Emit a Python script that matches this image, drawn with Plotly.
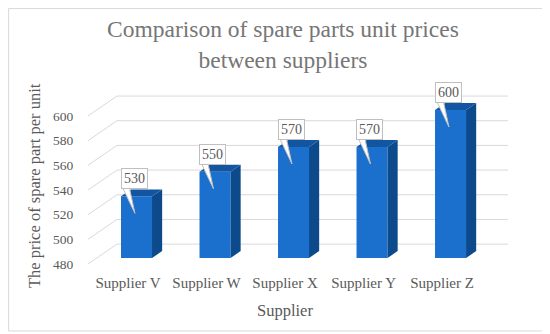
import plotly.graph_objects as go

# data
suppliers = ['Supplier V', 'Supplier W', 'Supplier X', 'Supplier Y', 'Supplier Z']
prices = [530, 550, 570, 570, 600]
y_ticks = [480, 500, 520, 540, 560, 580, 600]

# fake 3d look
x_lo, x_hi = -0.618, 4.732      # x range of the bar axis
y_lo, y_hi = 480, 621
depth_x, depth_y = 0.369, 16.1  # offset of the back wall
bar_w = 0.395
bar_front = 0.3                 # where the bar front sits in the depth
bar_depth = 0.35
label_shift = 0.108             # category labels sit on the front plane

font = 'Palatino Linotype, Book Antiqua, Palatino, Liberation Serif, serif'
grey = '#595959'

pos = list(range(len(prices)))
base = y_lo + bar_front * depth_y
dx, dy = bar_depth * depth_x, bar_depth * depth_y

fig = go.Figure()

# front faces
fig.add_trace(go.Bar(x=pos, y=[p - y_lo for p in prices], base=base, width=bar_w,
                     marker=dict(color='#1b6fcd', line=dict(width=0)),
                     hoverinfo='skip', showlegend=False))

# side and top faces
sx, sy, tx, ty = [], [], [], []
for i, p in zip(pos, prices):
    top = p + bar_front * depth_y
    r = i + bar_w / 2
    l = i - bar_w / 2
    sx += [r, r + dx, r + dx, r, None]
    sy += [base, base + dy, top + dy, top, None]
    tx += [l, l + dx, r + dx, r, None]
    ty += [top, top + dy, top + dy, top, None]
fig.add_trace(go.Scatter(x=sx, y=sy, mode='lines', fill='toself', fillcolor='#0d4a8c',
                         line=dict(width=0, color='#0d4a8c'), hoverinfo='skip', showlegend=False))
fig.add_trace(go.Scatter(x=tx, y=ty, mode='lines', fill='toself', fillcolor='#1256a2',
                         line=dict(width=0, color='#1256a2'), hoverinfo='skip', showlegend=False))

# callout tails
cx, cy = [], []
for i, p in zip(pos, prices):
    cx += [i - 0.185, i - 0.02, i - 0.095, None]
    cy += [p + 13, p - 9, p + 13, None]
fig.add_trace(go.Scatter(x=cx, y=cy, mode='lines', fill='toself', fillcolor='white',
                         line=dict(width=1, color='#bfbfbf'), hoverinfo='skip', showlegend=False))

# gridlines on the side and back wall
shapes = []
for v in y_ticks:
    shapes.append(dict(type='line', xref='x', yref='y', x0=x_lo, y0=v,
                       x1=x_lo + depth_x, y1=v + depth_y, layer='below',
                       line=dict(color='#d9d9d9', width=1)))
    shapes.append(dict(type='line', xref='x', yref='y', x0=x_lo + depth_x, y0=v + depth_y,
                       x1=x_hi, y1=v + depth_y, layer='below',
                       line=dict(color='#d9d9d9', width=1)))
# chart border
shapes.append(dict(type='rect', xref='paper', yref='paper', x0=-0.189, x1=1.088,
                   y0=-0.385, y1=1.468, line=dict(color='#d9d9d9', width=1)))

annotations = []
for i, p in zip(pos, prices):
    annotations.append(dict(x=i - 0.03, y=p + 19, xref='x', yref='y', text=str(p),
                            showarrow=False, bgcolor='white', bordercolor='#bfbfbf',
                            borderwidth=1, borderpad=2,
                            font=dict(family=font, size=14, color=grey)))
annotations.append(dict(x=-0.1286, y=0.454, xref='paper', yref='paper',
                        xanchor='center', yanchor='middle',
                        text='The price of spare part per unit', textangle=-90,
                        showarrow=False, font=dict(family=font, size=16.5, color=grey)))
annotations.append(dict(x=2, y=-0.27, xref='x2', yref='paper', text='Supplier',
                        showarrow=False, xanchor='center', yanchor='middle',
                        font=dict(family=font, size=16.5, color=grey)))

fig.update_layout(
    width=550, height=334,
    margin=dict(l=80, r=50, t=82, b=78),
    paper_bgcolor='white', plot_bgcolor='white',
    title=dict(text='Comparison of spare parts unit prices<br>between suppliers',
               x=0.5, xanchor='center', y=1 - 29 / 334, yanchor='middle',
               font=dict(family=font, size=23.5, color='#767676')),
    xaxis=dict(range=[x_lo, x_hi], showticklabels=False, showgrid=False,
               zeroline=False, showline=False),
    xaxis2=dict(overlaying='x', anchor='y', side='bottom',
                range=[x_lo + label_shift, x_hi + label_shift],
                tickmode='array', tickvals=pos, ticktext=suppliers,
                ticks='outside', ticklen=5, tickcolor='rgba(0,0,0,0)',
                showgrid=False, zeroline=False, showline=False,
                tickfont=dict(family=font, size=15, color=grey)),
    yaxis=dict(range=[y_lo, y_hi], tickmode='array', tickvals=y_ticks,
               ticks='outside', ticklen=11, tickcolor='rgba(0,0,0,0)',
               showgrid=False, zeroline=False, showline=False,
               tickfont=dict(family=font, size=13.5, color=grey)),
    shapes=shapes,
    annotations=annotations,
    showlegend=False,
)

fig.write_html('out.html')
